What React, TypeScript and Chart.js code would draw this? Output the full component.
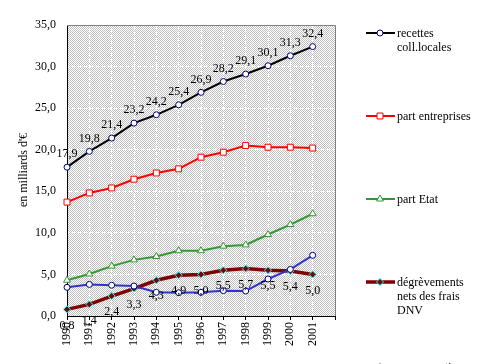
import React, { useEffect, useRef } from "react";
import { Chart, registerables } from "chart.js";

Chart.register(...registerables);

const years = ["1990", "1991", "1992", "1993", "1994", "1995", "1996", "1997", "1998", "1999", "2000", "2001"];
const recettes = [17.9, 19.8, 21.4, 23.2, 24.2, 25.4, 26.9, 28.2, 29.1, 30.1, 31.3, 32.4];
const partEntreprises = [13.7, 14.8, 15.4, 16.45, 17.2, 17.7, 19.1, 19.7, 20.5, 20.3, 20.3, 20.2];
const partEtat = [4.3, 5.05, 6.0, 6.75, 7.15, 7.85, 7.85, 8.4, 8.55, 9.8, 11.0, 12.3];
const degrevements = [0.8, 1.4, 2.4, 3.3, 4.3, 4.9, 5.0, 5.5, 5.7, 5.5, 5.4, 5.0];
const compensations = [3.45, 3.8, 3.7, 3.6, 2.85, 2.8, 2.85, 3.05, 3.0, 4.45, 5.6, 7.3];
const seriesNames = [
  ["recettes", "coll.locales"],
  ["part entreprises"],
  ["part Etat"],
  ["dégrèvements", "nets des frais", "DNV"],
  ["compensations"],
];
const yTitle = "en milliards d'€";

const FONT = "'Liberation Serif', 'Times New Roman', serif";
const fmt = (v: number) => v.toFixed(1).replace(".", ",");

function drawMarker(ctx: CanvasRenderingContext2D, ps: string, r: number, x: number, y: number) {
  ctx.beginPath();
  if (ps === "circle") {
    ctx.arc(x, y, r, 0, Math.PI * 2);
  } else if (ps === "rect") {
    const s = r * Math.SQRT1_2;
    ctx.rect(x - s, y - s, 2 * s, 2 * s);
  } else if (ps === "triangle") {
    const h = r * 1.5;
    const w = r * Math.sqrt(3);
    ctx.moveTo(x, y - r);
    ctx.lineTo(x + w / 2, y - r + h);
    ctx.lineTo(x - w / 2, y - r + h);
    ctx.closePath();
  } else if (ps === "rectRot") {
    ctx.moveTo(x, y - r);
    ctx.lineTo(x + r, y);
    ctx.lineTo(x, y + r);
    ctx.lineTo(x - r, y);
    ctx.closePath();
  }
  ctx.fill();
  ctx.stroke();
}

export default function App() {
  const ref = useRef<HTMLCanvasElement | null>(null);

  useEffect(() => {
    document.body.style.margin = "0";
    const canvas = ref.current!;
    const pc = document.createElement("canvas");
    pc.width = 2;
    pc.height = 2;
    const pctx = pc.getContext("2d")!;
    pctx.fillStyle = "#ffffff";
    pctx.fillRect(0, 0, 2, 2);
    pctx.fillStyle = "#c0c0c0";
    pctx.fillRect(0, 0, 1, 1);
    pctx.fillRect(1, 1, 1, 1);

    const styles = [
      { color: "#000000", width: 2, ps: "circle", r: 3, bg: "#ffffff", bc: "#000080", bw: 1 },
      { color: "#ff0000", width: 2, ps: "rect", r: 4.2, bg: "#ffffff", bc: "#ff0000", bw: 1 },
      { color: "#339933", width: 2, ps: "triangle", r: 4, bg: "#ffffff", bc: "#339933", bw: 1 },
      { color: "#800000", width: 3.5, ps: "rectRot", r: 3.5, bg: "#800000", bc: "#00ffff", bw: 1 },
      { color: "#3333cc", width: 2, ps: "circle", r: 3, bg: "#ffffff", bc: "#000080", bw: 1 },
    ];
    const values = [recettes, partEntreprises, partEtat, degrevements, compensations];
    const legendY = [33, 116, 199, 282, 367];

    const decor = {
      id: "decor",
      beforeDraw(chart: any) {
        const { ctx, chartArea: a } = chart;
        ctx.save();
        ctx.fillStyle = ctx.createPattern(pc, "repeat");
        ctx.fillRect(a.left, a.top, a.right - a.left, a.bottom - a.top);
        ctx.restore();
      },
      beforeDatasetsDraw(chart: any) {
        const { ctx, chartArea: a } = chart;
        ctx.save();
        ctx.strokeStyle = "#808080";
        ctx.lineWidth = 1;
        ctx.beginPath();
        ctx.moveTo(a.left, a.top + 0.5);
        ctx.lineTo(a.right + 0.5, a.top + 0.5);
        ctx.lineTo(a.right + 0.5, a.bottom);
        ctx.stroke();
        ctx.restore();
      },
      afterDraw(chart: any) {
        const { ctx } = chart;
        ctx.save();
        ctx.font = `12px ${FONT}`;
        ctx.fillStyle = "#000";
        ctx.textAlign = "center";
        ctx.textBaseline = "middle";
        chart.getDatasetMeta(0).data.forEach((p: any, i: number) => {
          ctx.fillText(fmt(recettes[i]), p.x, p.y - 13);
        });
        chart.getDatasetMeta(3).data.forEach((p: any, i: number) => {
          ctx.fillText(fmt(degrevements[i]), p.x, p.y + 16);
        });
        ctx.save();
        ctx.translate(24, 170);
        ctx.rotate(-Math.PI / 2);
        ctx.fillText(yTitle, 0, 0);
        ctx.restore();
        ctx.textAlign = "left";
        seriesNames.forEach((lines, k) => {
          const y = legendY[k];
          const s = styles[k];
          ctx.strokeStyle = s.color;
          ctx.lineWidth = s.width;
          ctx.beginPath();
          ctx.moveTo(366, y);
          ctx.lineTo(395, y);
          ctx.stroke();
          ctx.fillStyle = s.bg;
          ctx.strokeStyle = s.bc;
          ctx.lineWidth = s.bw;
          drawMarker(ctx, s.ps, s.r, 380, y);
          ctx.fillStyle = "#000";
          lines.forEach((t, j) => ctx.fillText(t, 397, y + 1 + j * 14));
        });
        ctx.restore();
      },
    };

    const chart = new Chart(canvas, {
      type: "line",
      data: {
        labels: [...years, ""],
        datasets: values.map((v, k) => ({
          label: seriesNames[k].join(" "),
          data: v,
          borderColor: styles[k].color,
          borderWidth: styles[k].width,
          pointStyle: styles[k].ps as any,
          pointRadius: styles[k].r,
          pointBackgroundColor: styles[k].bg,
          pointBorderColor: styles[k].bc,
          pointBorderWidth: styles[k].bw,
          tension: 0,
          fill: false,
          order: k === 4 ? -1 : k,
        })),
      },
      options: {
        animation: false,
        responsive: false,
        layout: { padding: { left: 0, top: 25, right: 145, bottom: 0 } },
        plugins: { legend: { display: false }, tooltip: { enabled: false } },
        scales: {
          x: {
            type: "category",
            offset: false,
            grid: { color: "#ffffff", tickColor: "#000000", tickLength: 4, tickBorderDash: [] as any },
            border: { color: "#000000", dash: [2, 1] },
            ticks: {
              autoSkip: false,
              minRotation: 90,
              maxRotation: 90,
              padding: 2,
              color: "#000",
              font: { family: FONT, size: 12 },
            },
            afterFit: (s: any) => { s.height = 48; },
          },
          y: {
            min: 0,
            max: 35,
            grid: { color: "#ffffff", drawTicks: false },
            border: { color: "#000000", dash: [2, 1] },
            ticks: {
              stepSize: 5,
              padding: 11,
              color: "#000",
              font: { family: FONT, size: 12 },
              callback: (v: any) => fmt(Number(v)),
            },
            afterFit: (s: any) => { s.width = 67; },
          },
        },
      } as any,
      plugins: [decor],
    });
    return () => chart.destroy();
  }, []);

  return (
    <div style={{ position: "absolute", left: 0, top: 0, width: 480, height: 364, background: "#fff" }}>
      <canvas ref={ref} width={480} height={364} style={{ width: 480, height: 364 }} />
    </div>
  );
}
